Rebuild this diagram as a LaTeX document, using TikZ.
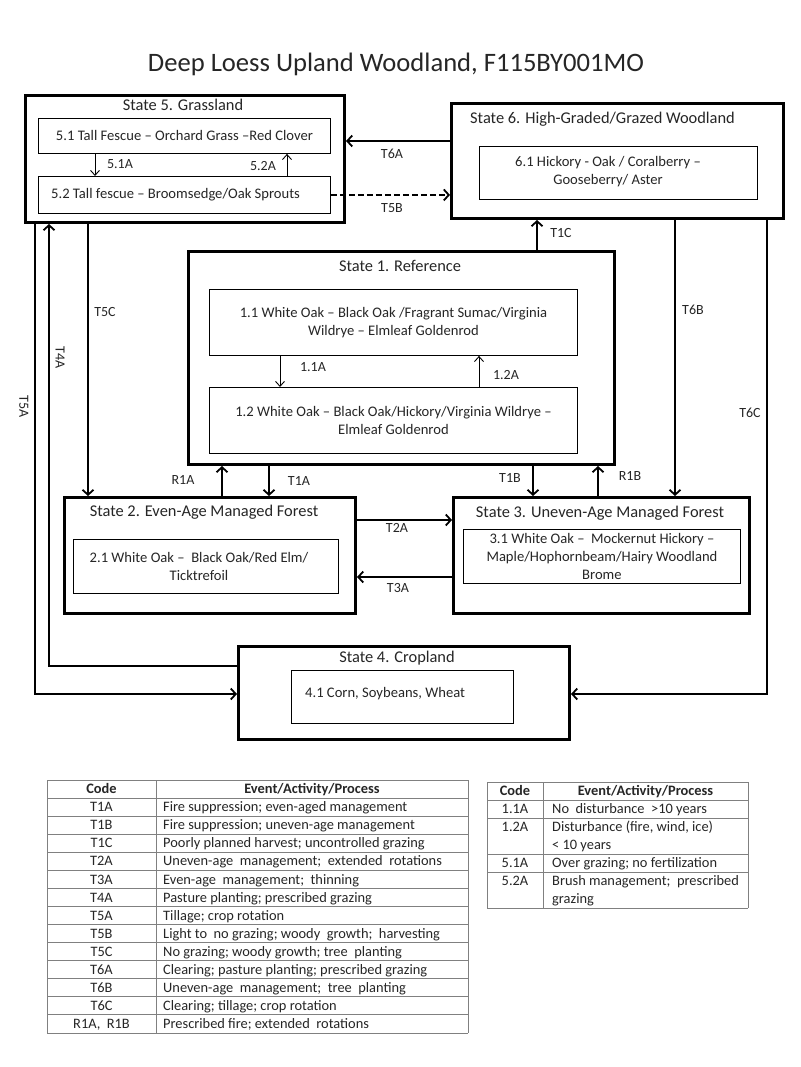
\documentclass[tikz,border=0pt]{standalone}
\usepackage{fontspec}
\setmainfont{Carlito}
\usetikzlibrary{arrows.meta}
\begin{document}
\begin{tikzpicture}[x=1pt,y=-1pt,
  stbox/.style={draw, line width=3pt, inner sep=0pt, anchor=north west},
  inbox/.style={draw, line width=0.9pt, inner sep=0pt, anchor=north west},
  txt/.style={font=\fontsize{14.6}{18}\selectfont, align=center, inner sep=0pt, text=black!85},
  ttl/.style={font=\fontsize{16.4}{19}\selectfont, inner sep=0pt, text=black!85, text height=13.6pt, text depth=3pt},
  lbl/.style={font=\fontsize{14}{16}\selectfont, inner sep=0pt, text=black!85, text height=12pt, text depth=3pt},
  conn/.style={line width=1.8pt, -{Straight Barb[length=5pt,width=11pt]}},
  thinarr/.style={line width=0.9pt, -{Straight Barb[length=5pt,width=9pt]}},
  tab/.style={draw=black!50, line width=0.9pt},
  tt/.style={font=\fontsize{14.4}{17}\selectfont, inner sep=0pt, text=black!85, text height=12.3pt, text depth=3pt},
  th/.style={font=\bfseries\fontsize{14.4}{17}\selectfont, inner sep=0pt, text=black!85, text height=12.3pt, text depth=3pt}]
\useasboundingbox (0,0) rectangle (800,1067);
\fill[white] (0,0) rectangle (800,1067);

\node[font=\fontsize{26.6}{30}\selectfont, inner sep=0pt, text=black!85] (title) at (396,64) {Deep Loess Upland Woodland, F115BY001MO};

% State 5
\node[stbox, minimum width=319pt, minimum height=127pt] (s5) at (24,94) {};
\node[ttl] (s5t) at (183,105) {State 5. Grassland};
\node[inbox, minimum width=292pt, minimum height=35pt] (s5a) at (38,118) {};
\node[txt] (s5at) at (s5a.center) {5.1 Tall Fescue -- Orchard Grass --Red Clover};
\node[inbox, minimum width=292pt, minimum height=37pt] (s5b) at (38,176) {};
\node[txt, anchor=west] (s5bt) at (51,195) {5.2 Tall fescue -- Broomsedge/Oak Sprouts};

% State 6
\node[stbox, minimum width=332pt, minimum height=115pt] (s6) at (450,102) {};
\node[ttl, anchor=west] (s6t) at (470,118) {State 6. High-Graded/Grazed Woodland};
\node[inbox, minimum width=278pt, minimum height=53pt] (s6a) at (479,146) {};
\node[txt] (s6at) at (608,172) {6.1 Hickory - Oak / Coralberry --\\Gooseberry/ Aster};

% State 1
\node[stbox, minimum width=426pt, minimum height=213pt] (s1) at (187,250) {};
\node[ttl] (s1t) at (400,266) {State 1. Reference};
\node[inbox, minimum width=368pt, minimum height=66pt] (s1a) at (209,289) {};
\node[txt] (s1at) at (s1a.center) {1.1 White Oak -- Black Oak /Fragrant Sumac/Virginia\\Wildrye -- Elmleaf Goldenrod};
\node[inbox, minimum width=368pt, minimum height=66pt] (s1b) at (209,387) {};
\node[txt] (s1bt) at (s1b.center) {1.2 White Oak -- Black Oak/Hickory/Virginia Wildrye --\\Elmleaf Goldenrod};

% State 2
\node[stbox, minimum width=291pt, minimum height=116pt] (s2) at (63,496) {};
\node[ttl] (s2t) at (204,511) {State 2. Even-Age Managed Forest};
\node[inbox, minimum width=265pt, minimum height=54pt] (s2a) at (73,539) {};
\node[txt] (s2at) at (199,566) {2.1 White Oak -- \ Black Oak/Red Elm/\\Ticktrefoil};

% State 3
\node[stbox, minimum width=296pt, minimum height=116pt] (s3) at (452,496) {};
\node[ttl] (s3t) at (600,512) {State 3. Uneven-Age Managed Forest};
\node[inbox, minimum width=277pt, minimum height=54pt] (s3a) at (463,529) {};
\node[txt] (s3at) at (s3a.center) {3.1 White Oak -- \ Mockernut Hickory --\\Maple/Hophornbeam/Hairy Woodland\\Brome};

% State 4
\node[stbox, minimum width=331pt, minimum height=93pt] (s4) at (237,645) {};
\node[ttl] (s4t) at (397,657) {State 4. Cropland};
\node[inbox, minimum width=222pt, minimum height=53pt] (s4a) at (291,670) {};
\node[txt, anchor=west] (s4at) at (305,694) {4.1 Corn, Soybeans, Wheat};

% connectors
\draw[conn] (s6.west |- 0,141) -- (s5.east |- 0,141);
\node[lbl] (lT6A) at (392,154) {T6A};
\draw[conn, dashed, dash pattern=on 6pt off 3pt] (s5b.east) -- (s6.west |- s5b.east);
\node[lbl] (lT5B) at (392,208) {T5B};
\draw[conn] (s1.north -| 537,0) -- (s6.south -| 537,0);
\node[lbl] (lT1C) at (561,233) {T1C};
\draw[conn] (s6.south -| 675,0) -- (s3.north -| 675,0);
\node[lbl] (lT6B) at (693,310) {T6B};
\draw[conn] (s6.south -| 767,0) |- (s4.east |- 0,694);
\node[lbl] (lT6C) at (750,413) {T6C};
\draw[conn] (s5.south -| 88,0) -- (s2.north -| 88,0);
\node[lbl] (lT5C) at (105,312) {T5C};
\draw[conn] (s4.west |- 0,666) -| (s5.south -| 49,0);
\node[lbl, rotate=-90] (lT4A) at (60,358) {T4A};
\draw[conn] (s5.south -| 35,0) |- (s4.west |- 0,694);
\node[lbl, rotate=-90] (lT5A) at (24,407) {T5A};
\draw[conn] (s2.north -| 222,0) -- (s1.south -| 222,0);
\node[lbl] (lR1A) at (183,480) {R1A};
\draw[conn] (s1.south -| 269,0) -- (s2.north -| 269,0);
\node[lbl] (lT1A) at (299,481) {T1A};
\draw[conn] (s1.south -| 533,0) -- (s3.north -| 533,0);
\node[lbl] (lT1B) at (510,478) {T1B};
\draw[conn] (s3.north -| 598,0) -- (s1.south -| 598,0);
\node[lbl] (lR1B) at (630,476) {R1B};
\draw[conn] (s2.east |- 0,520) -- (s3.west |- 0,520);
\node[lbl] (lT2A) at (397,528) {T2A};
\draw[conn] (s3.west |- 0,577) -- (s2.east |- 0,577);
\node[lbl] (lT3A) at (398,588) {T3A};

\draw[thinarr] (s1a.south -| 280,0) -- (s1b.north -| 280,0);
\node[lbl] (l11A) at (313,367) {1.1A};
\draw[thinarr] (s1b.north -| 479,0) -- (s1a.south -| 479,0);
\node[lbl] (l12A) at (506,375) {1.2A};
\draw[thinarr] (s5a.south -| 95,0) -- (s5b.north -| 95,0);
\node[lbl] (l51A) at (120,164) {5.1A};
\draw[thinarr] (s5b.north -| 287,0) -- (s5a.south -| 287,0);
\node[lbl] (l52A) at (263,166) {5.2A};

% Table 1
\foreach \k in {0,...,14} \draw[tab] (47,780+18.07*\k) -- (468,780+18.07*\k);
\foreach \xx in {47,156,468} \draw[tab] (\xx,780) -- (\xx,1033);
\node[th] (t1h1) at (101.5,789) {Code};
\node[th] (t1h2) at (312,789) {Event/Activity/Process};
\foreach \c/\d [count=\i] in {
  T1A/Fire suppression; even-aged management,
  T1B/Fire suppression; uneven-age management,
  T1C/Poorly planned harvest; uncontrolled grazing,
  T2A/Uneven-age \ management; \ extended \ rotations,
  T3A/Even-age \ management; \ thinning,
  T4A/Pasture planting; prescribed grazing,
  T5A/Tillage; crop rotation,
  T5B/Light to \ no grazing; woody \ growth; \ harvesting,
  T5C/No grazing; woody growth; tree \ planting,
  T6A/Clearing; pasture planting; prescribed grazing,
  T6B/Uneven-age \ management; \ tree \ planting,
  T6C/Clearing; tillage; crop rotation,
  {R1A, \ R1B}/Prescribed fire; extended \ rotations}
{
  \node[tt] (t1c\i) at (101.5,{780+18.07*(\i+0.5)}) {\c};
  \node[tt, anchor=west] (t1d\i) at (163,{780+18.07*(\i+0.5)}) {\d};
}

% Table 2
\foreach \yy in {782,800,818,854,872,908} \draw[tab] (487,\yy) -- (748,\yy);
\foreach \xx in {487,543,748} \draw[tab] (\xx,782) -- (\xx,908);
\node[th] (t2h1) at (515,791) {Code};
\node[th] (t2h2) at (645.5,791) {Event/Activity/Process};
\node[tt] (t2c1) at (515,809) {1.1A};
\node[tt, anchor=west] (t2d1) at (552,809) {No \ disturbance \ >10 years};
\node[tt] (t2c2) at (515,827) {1.2A};
\node[tt, anchor=west] (t2d2) at (552,827) {Disturbance (fire, wind, ice)};
\node[tt, anchor=west] (t2d2b) at (552,845) {< 10 years};
\node[tt] (t2c3) at (515,863) {5.1A};
\node[tt, anchor=west] (t2d3) at (552,863) {Over grazing; no fertilization};
\node[tt] (t2c4) at (515,881) {5.2A};
\node[tt, anchor=west] (t2d4) at (552,881) {Brush management; \ prescribed};
\node[tt, anchor=west] (t2d4b) at (552,899) {grazing};
\end{tikzpicture}
\end{document}
